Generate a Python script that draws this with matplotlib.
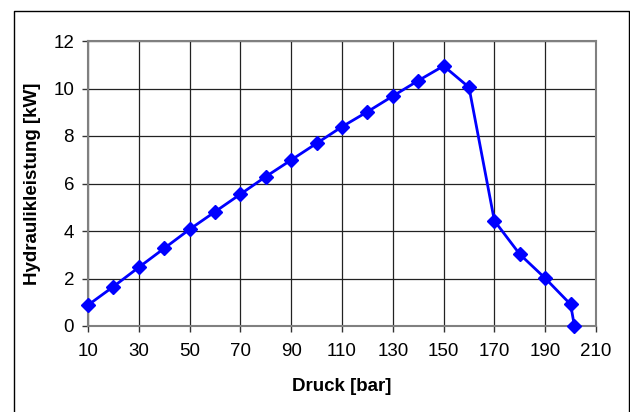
import matplotlib
matplotlib.use('Agg')
import matplotlib.pyplot as plt
from matplotlib.lines import Line2D

# Messwerte: Druck [bar] und Hydraulikleistung [kW]
druck = [10, 20, 30, 40, 50, 60, 70, 80, 90, 100, 110, 120, 130, 140,
         150, 160, 170, 180, 190, 200, 201.5]
leistung = [0.88, 1.66, 2.47, 3.27, 4.07, 4.81, 5.55, 6.29, 6.99, 7.69,
            8.39, 9.02, 9.68, 10.33, 10.95, 10.05, 4.43, 3.02, 2.01, 0.91, 0.0]

x_ticks = list(range(10, 211, 20))
y_ticks = list(range(0, 13, 2))

plt.rcParams['font.family'] = ['Liberation Sans', 'DejaVu Sans']

fig = plt.figure(figsize=(6.3, 4.12), dpi=100)
W, H = 630, 412
ax = fig.add_axes([88 / W, 1 - 326 / H, (596 - 88) / W, (326 - 41) / H])

# outer chart frame (bottom edge is cut off in the original)
x0, x1, ytop = 13.5 / W, 628.5 / W, 1 - 10.5 / H
fig.lines.append(Line2D([x0, x0, x1, x1], [0, ytop, ytop, 0],
                        transform=fig.transFigure, color='black', linewidth=1.0))

ax.plot(druck, leistung, color='#0000ff', linewidth=2.0, marker='D',
        markersize=7, clip_on=False, zorder=3)

ax.set_xlim(10, 210)
ax.set_ylim(0, 12)
ax.set_xticks(x_ticks)
ax.set_yticks(y_ticks)
ax.grid(True, color='#222222', linewidth=0.9)
ax.set_axisbelow(True)

for side in ['top', 'right', 'left', 'bottom']:
    ax.spines[side].set_color('#808080')
    ax.spines[side].set_linewidth(1.5)

ax.tick_params(direction='out', length=4, width=1, color='#333333',
               labelsize=13.5)
ax.tick_params(axis='x', pad=8)
ax.tick_params(axis='y', pad=6)

ax.set_xlabel('Druck [bar]', fontsize=13.5, fontweight='bold', labelpad=13)
ax.set_ylabel('Hydraulikleistung [kW]', fontsize=13.5, fontweight='bold', labelpad=9)

fig.savefig('out.png', dpi=100)
